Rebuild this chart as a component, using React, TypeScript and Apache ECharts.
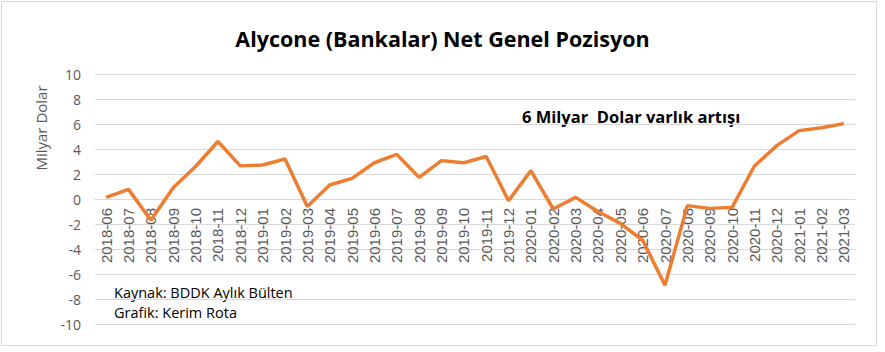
import React, { useEffect, useRef } from "react";
import * as echarts from "echarts";

const categories = [
  "2018-06","2018-07","2018-08","2018-09","2018-10","2018-11","2018-12",
  "2019-01","2019-02","2019-03","2019-04","2019-05","2019-06","2019-07","2019-08","2019-09","2019-10","2019-11","2019-12",
  "2020-01","2020-02","2020-03","2020-04","2020-05","2020-06","2020-07","2020-08","2020-09","2020-10","2020-11","2020-12",
  "2021-01","2021-02","2021-03",
];
const netPosition = [
  0.13, 0.77, -1.7, 0.9, 2.6, 4.6, 2.65,
  2.72, 3.2, -0.6, 1.12, 1.65, 2.9, 3.57, 1.73, 3.07, 2.9, 3.4, -0.13,
  2.27, -0.8, 0.13, -1.0, -1.95, -3.3, -6.9, -0.53, -0.75, -0.67, 2.64, 4.27,
  5.47, 5.7, 6.03,
];
const titleText = "Alycone (Bankalar) Net Genel Pozisyon";
const yAxisName = "Milyar Dolar";
const annotation = "6 Milyar  Dolar varlık artışı";
const sourceLines = ["Kaynak: BDDK Aylık Bülten", "Grafik: Kerim Rota"];

const FONT = "'Open Sans', 'Liberation Sans', sans-serif";

export default function App() {
  const ref = useRef<HTMLDivElement>(null);
  useEffect(() => {
    document.body.style.margin = "0";
    const chart = echarts.init(ref.current!, null, { renderer: "svg" });
    const gridTop = 74;
    const gridBottom = 28;
    const plotH = 352 - gridTop - gridBottom;
    const zeroOffset = -plotH / 2; // move the category axis up to value 0 (range -10..10)
    chart.setOption({
      animation: false,
      backgroundColor: "#ffffff",
      title: {
        text: titleText,
        left: "center",
        top: 22,
        textStyle: { fontFamily: FONT, fontSize: 21.5, fontWeight: "bold", color: "#000000" },
      },
      grid: { left: 95, right: 30, top: gridTop, bottom: gridBottom, containLabel: false, outerBoundsMode: "none" },
      xAxis: {
        type: "category",
        data: categories,
        boundaryGap: true,
        offset: zeroOffset,
        axisLine: { show: true, onZero: false, lineStyle: { color: "#D9D9D9" } },
        axisTick: { show: false },
        axisLabel: {
          rotate: 90,
          interval: 0,
          margin: 9,
          fontFamily: "'Liberation Sans', sans-serif",
          fontSize: 15,
          color: "#595959",
        },
      },
      yAxis: {
        type: "value",
        min: -10,
        max: 10,
        interval: 2,
        axisLine: { show: false },
        axisTick: { show: false },
        axisLabel: { fontFamily: FONT, fontSize: 14, color: "#595959", margin: 14 },
        splitLine: { lineStyle: { color: "#D9D9D9", width: 1 } },
      },
      series: [
        {
          type: "line",
          data: netPosition,
          symbol: "none",
          lineStyle: { color: "#ED7D31", width: 3.5 },
          z: 5,
        },
      ],
      graphic: [
        {
          type: "rect",
          shape: { x: 1.5, y: 1.5, width: 875, height: 344 },
          style: { fill: "none", stroke: "#D9D9D9", lineWidth: 1 },
          silent: true,
        },
        {
          type: "text",
          x: 41,
          y: 128,
          rotation: Math.PI / 2,
          style: {
            text: yAxisName,
            fontFamily: FONT,
            fontSize: 15,
            fill: "#595959",
            textAlign: "center",
            textVerticalAlign: "middle",
          },
        },
        {
          type: "text",
          x: 522,
          y: 116,
          style: {
            text: annotation,
            fontFamily: FONT,
            fontSize: 16.5,
            fontWeight: "bold",
            fill: "#000000",
            textVerticalAlign: "middle",
          },
        },
        {
          type: "text",
          x: 114,
          y: 292,
          style: {
            text: sourceLines[0],
            fontFamily: FONT,
            fontSize: 14.5,
            fill: "#000000",
            textVerticalAlign: "middle",
          },
        },
        {
          type: "text",
          x: 114,
          y: 312,
          style: {
            text: sourceLines[1],
            fontFamily: FONT,
            fontSize: 14.5,
            fill: "#000000",
            textVerticalAlign: "middle",
          },
        },
      ],
    });
    return () => chart.dispose();
  }, []);
  return <div ref={ref} style={{ width: 885, height: 352 }} />;
}
